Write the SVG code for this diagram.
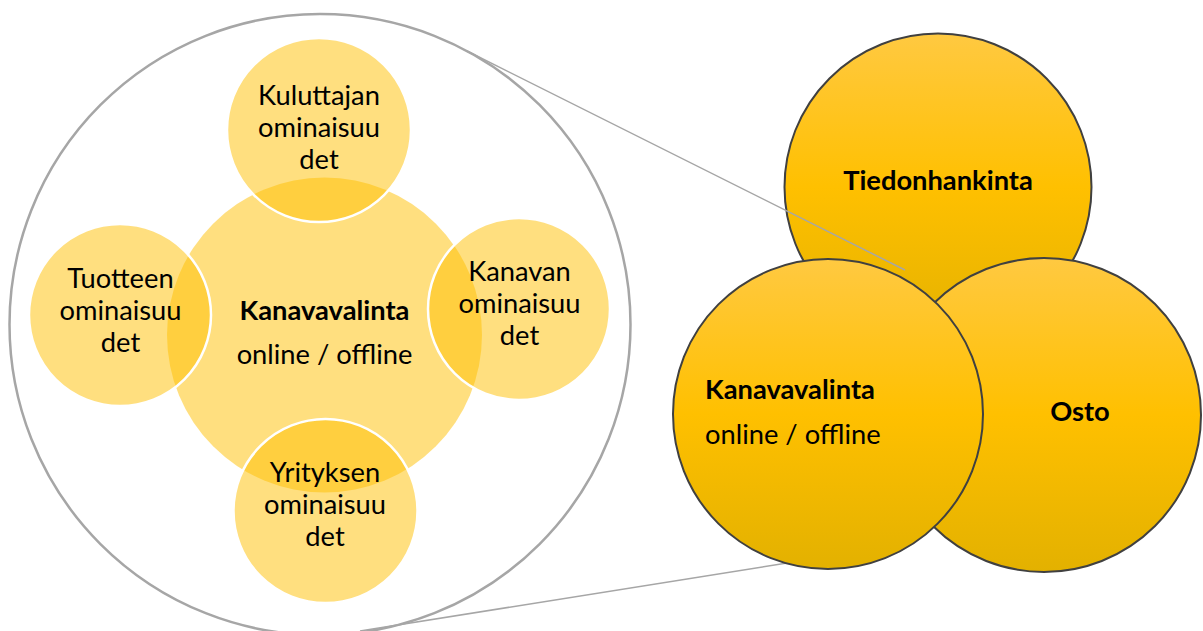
<svg xmlns="http://www.w3.org/2000/svg" width="1203" height="631" viewBox="0 0 1203 631">
<defs>
<linearGradient id="gold" x1="0" y1="0" x2="0" y2="1">
<stop offset="0" stop-color="#FFC941"/>
<stop offset="0.5" stop-color="#FFC000"/>
<stop offset="1" stop-color="#E3B100"/>
</linearGradient>
<style>
.sat{fill:#FFC000;fill-opacity:0.5;stroke:#FFFFFF;stroke-width:2.5}
.core{fill:#FFC000;fill-opacity:0.5;stroke:none}
.big{fill:none;stroke:#A6A6A6;stroke-width:2.5}
.gold{fill:url(#gold);stroke:#404040;stroke-width:2}
.t{font-family:Lato,"Liberation Sans",sans-serif;font-size:27.3px;fill:#000000}
.b{font-weight:bold}
.c{text-anchor:middle}
.ln{stroke:#A6A6A6;stroke-width:1.5;fill:none}
</style>
</defs>
<rect width="1203" height="631" fill="#FFFFFF"/>
<g id="zoom-circle">
<circle class="big" cx="320" cy="324.5" r="310.5"/>
</g>
<g id="kanavavalinta-core">
<circle class="core" cx="324.5" cy="335" r="157.5"/>
<text class="t b c" x="324.5" y="320">Kanavavalinta</text>
<text class="t c" x="324.5" y="364">online / offline</text>
</g>
<g id="kuluttajan">
<circle class="sat" cx="319" cy="130" r="92"/>
<text class="t c" x="319" y="105">Kuluttajan</text>
<text class="t c" x="319" y="137">ominaisuu</text>
<text class="t c" x="319" y="169">det</text>
</g>
<g id="tuotteen">
<circle class="sat" cx="120" cy="315" r="91"/>
<text class="t c" x="120.5" y="288">Tuotteen</text>
<text class="t c" x="120.5" y="320">ominaisuu</text>
<text class="t c" x="120.5" y="352">det</text>
</g>
<g id="kanavan">
<circle class="sat" cx="519" cy="309" r="91"/>
<text class="t c" x="519.5" y="281">Kanavan</text>
<text class="t c" x="519.5" y="313">ominaisuu</text>
<text class="t c" x="519.5" y="345">det</text>
</g>
<g id="yrityksen">
<circle class="sat" cx="325.5" cy="511" r="92"/>
<text class="t c" x="325" y="482">Yrityksen</text>
<text class="t c" x="325" y="514">ominaisuu</text>
<text class="t c" x="325" y="546">det</text>
</g>
<g id="tiedonhankinta">
<circle class="gold" cx="938" cy="187" r="153.5"/>
<text class="t b c" x="938" y="190">Tiedonhankinta</text>
</g>
<g id="connectors">
<line class="ln" x1="467" y1="51" x2="905" y2="270"/>
<line class="ln" x1="360" y1="631" x2="875" y2="549"/>
</g>
<g id="osto">
<circle class="gold" cx="1044" cy="415" r="157"/>
<text class="t b c" x="1080" y="421">Osto</text>
</g>
<g id="kanavavalinta">
<circle class="gold" cx="828" cy="414" r="155"/>
<text class="t b" x="705" y="399">Kanavavalinta</text>
<text class="t" x="705" y="444">online / offline</text>
</g>
</svg>
